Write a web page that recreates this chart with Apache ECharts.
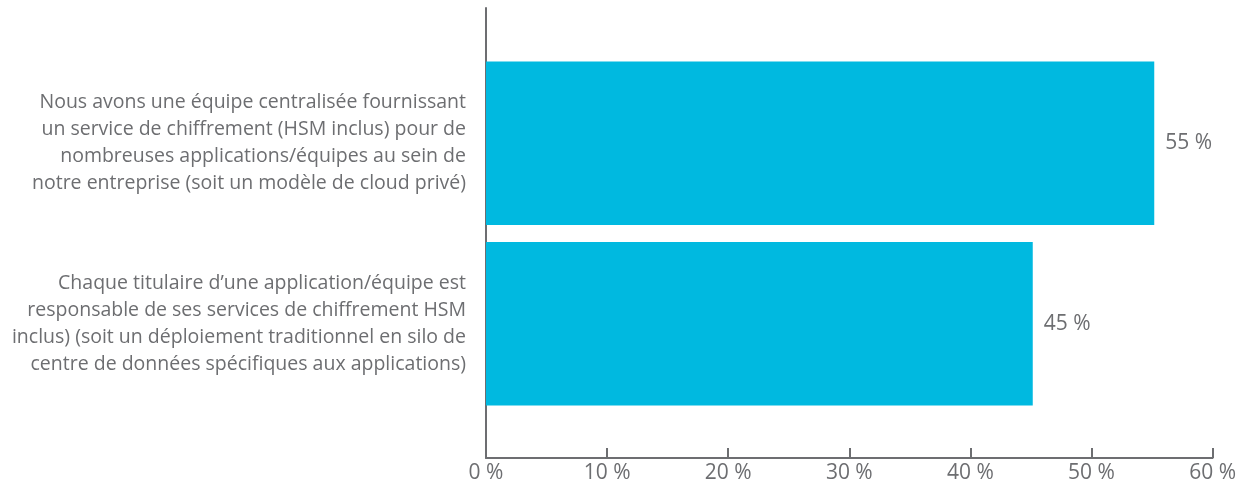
<!DOCTYPE html>
<html>
<head>
<meta charset="utf-8">
<script src="https://cdn.jsdelivr.net/npm/echarts@6/dist/echarts.min.js"></script>
<style>
  html, body { margin: 0; padding: 0; background: #ffffff; }
  #chart { width: 1239px; height: 491px; }
</style>
</head>
<body>
<div id="chart"></div>
<script>
// Survey answers (top to bottom) and their shares in percent
const categories = [
  'Nous avons une équipe centralisée fournissant\nun service de chiffrement (HSM inclus) pour de\nnombreuses applications/équipes au sein de\nnotre entreprise (soit un modèle de cloud privé)',
  'Chaque titulaire d’une application/équipe est\nresponsable de ses services de chiffrement HSM\ninclus) (soit un déploiement traditionnel en silo de\ncentre de données spécifiques aux applications)'
];
const shares = [55, 45];
const axisMax = 60;
const axisStep = 10;

const gray = '#6d6e71';
const font = '"Open Sans", "Noto Sans", sans-serif';

const chart = echarts.init(document.getElementById('chart'), null, { renderer: 'canvas' });

chart.setOption({
  animation: false,
  backgroundColor: '#ffffff',
  grid: [
    // frame grid: carries the visible axes
    { left: 486, right: 24, top: 8, bottom: 33, containLabel: false },
    // plot grid: carries the bars
    { left: 486, right: 24, top: 53, bottom: 77, containLabel: false }
  ],
  xAxis: [
    {
      type: 'value', gridIndex: 0, min: 0, max: axisMax, interval: axisStep,
      axisLine: { show: true, lineStyle: { color: gray, width: 2 } },
      axisTick: { show: true, inside: true, length: 10, lineStyle: { color: gray, width: 2 } },
      splitLine: { show: false },
      axisLabel: { color: gray, fontFamily: font, fontSize: 21, margin: 5, formatter: v => v + ' %' }
    },
    {
      type: 'value', gridIndex: 1, min: 0, max: axisMax, interval: axisStep,
      show: false, splitLine: { show: false }
    }
  ],
  yAxis: [
    {
      type: 'value', gridIndex: 0, min: 0, max: 1,
      axisLine: { show: true, lineStyle: { color: gray, width: 2 } },
      axisTick: { show: false }, axisLabel: { show: false }, splitLine: { show: false }
    },
    {
      type: 'category', gridIndex: 1, inverse: true, data: categories,
      axisLine: { show: false }, axisTick: { show: false }, splitLine: { show: false },
      axisLabel: {
        color: gray, fontFamily: font, fontSize: 19.5, lineHeight: 27,
        align: 'right', margin: 20
      }
    }
  ],
  series: [{
    type: 'bar', xAxisIndex: 1, yAxisIndex: 1,
    data: shares,
    barCategoryGap: '9.4%',
    itemStyle: { color: '#00b9e0' },
    label: {
      show: true, position: 'right', distance: 11,
      color: gray, fontFamily: font, fontSize: 21,
      formatter: p => p.value + ' %'
    }
  }]
});
</script>
</body>
</html>
